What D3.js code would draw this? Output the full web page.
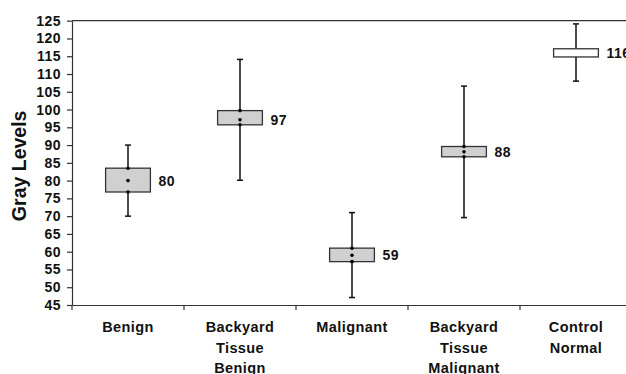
<!DOCTYPE html>
<html>
<head>
<meta charset="utf-8">
<script src="https://cdn.jsdelivr.net/npm/d3@7"></script>
<style>
  html, body { margin: 0; padding: 0; background: #fff; }
  svg { display: block; font-family: Arial, "Liberation Sans", sans-serif; }
</style>
</head>
<body>
<svg id="chart" width="626" height="374"></svg>
<script>
const categories = ["Benign", "Backyard Tissue Benign", "Malignant", "Backyard Tissue Malignant", "Control Normal"];
const categoryLines = [["Benign"], ["Backyard", "Tissue", "Benign"], ["Malignant"], ["Backyard", "Tissue", "Malignant"], ["Control", "Normal"]];
const mins  = [70, 80.1, 47.1, 69.6, 108];
const q1s   = [76.8, 95.7, 57.2, 86.7, 114.8];
const means = [80, 97.1, 59, 88.1, 116];
const q3s   = [83.5, 99.7, 61, 89.6, 117.1];
const maxs  = [90, 114.1, 71, 106.6, 124.1];
const valueLabels = ["80", "97", "59", "88", "116"];
const boxFills = ["#d0d0d0", "#d0d0d0", "#d0d0d0", "#d0d0d0", "#ffffff"];
const showDots = [true, true, true, true, false];
const yTicks = d3.range(45, 126, 5);

const svg = d3.select("#chart");
const pLeft = 72, pRight = 632, pTop = 20.7, pBottom = 305;

const x = d3.scaleBand().domain(categories).range([pLeft, pRight]);
const y = d3.scaleLinear().domain([45, 125]).range([pBottom, pTop]);

const data = categories.map((c, i) => ({
  c, lines: categoryLines[i], min: mins[i], q1: q1s[i], mean: means[i], q3: q3s[i], max: maxs[i],
  label: valueLabels[i], fill: boxFills[i], dots: showDots[i]
}));

// top frame line
svg.append("line").attr("x1", pLeft).attr("x2", 626).attr("y1", pTop).attr("y2", pTop)
  .attr("stroke", "#333").attr("stroke-width", 1.2);

// Y axis
const yAxis = svg.append("g").attr("transform", `translate(${pLeft},0)`)
  .call(d3.axisLeft(y).tickValues(yTicks).tickSize(5).tickPadding(6).tickSizeOuter(0));
yAxis.select(".domain").attr("stroke", "#333").attr("stroke-width", 1.2);
yAxis.selectAll(".tick line").attr("stroke", "#333").attr("stroke-width", 1.2);
yAxis.selectAll(".tick text").attr("font-size", "14px").attr("font-weight", "bold")
  .attr("letter-spacing", "0.5px")
  .attr("fill", "#111").attr("font-family", "Arial, 'Liberation Sans', sans-serif");

// X axis
const xAxis = svg.append("g").attr("transform", `translate(0,${pBottom})`)
  .call(d3.axisBottom(x).tickSize(0).tickFormat(""));
xAxis.select(".domain").attr("stroke", "#333").attr("stroke-width", 1.2);
const boundaries = categories.map(c => x(c)).concat([x(categories[categories.length - 1]) + x.bandwidth()]);
xAxis.selectAll(".bnd").data(boundaries).enter().append("line")
  .attr("x1", d => d).attr("x2", d => d).attr("y1", 0).attr("y2", 5)
  .attr("stroke", "#333").attr("stroke-width", 1.2);

// category labels
data.forEach(d => {
  const t = svg.append("text").attr("text-anchor", "middle")
    .attr("font-size", "14.5px").attr("font-weight", "bold").attr("letter-spacing", "0.4px")
    .attr("fill", "#111");
  d.lines.forEach((ln, j) => {
    t.append("tspan").attr("x", x(d.c) + x.bandwidth() / 2)
      .attr("y", pBottom + 27 + j * 20.5).text(ln);
  });
});

// Y title
svg.append("text").attr("transform", `translate(26,${(pTop + pBottom) / 2 + 3}) rotate(-90)`)
  .attr("text-anchor", "middle").attr("font-size", "19.5px").attr("font-weight", "bold")
  .attr("fill", "#111").text("Gray Levels");

// boxes
const bw = x.bandwidth() * 0.4, cap = 3;
const g = svg.append("g");
const grp = g.selectAll(".box").data(data).enter().append("g");
const cx = d => x(d.c) + x.bandwidth() / 2;

grp.append("line").attr("x1", cx).attr("x2", cx).attr("y1", d => y(d.min)).attr("y2", d => y(d.max))
  .attr("stroke", "#111").attr("stroke-width", 1.5);
grp.append("line").attr("x1", d => cx(d) - cap).attr("x2", d => cx(d) + cap)
  .attr("y1", d => y(d.max)).attr("y2", d => y(d.max)).attr("stroke", "#111").attr("stroke-width", 1.5);
grp.append("line").attr("x1", d => cx(d) - cap).attr("x2", d => cx(d) + cap)
  .attr("y1", d => y(d.min)).attr("y2", d => y(d.min)).attr("stroke", "#111").attr("stroke-width", 1.5);
grp.append("rect").attr("x", d => cx(d) - bw / 2).attr("width", bw)
  .attr("y", d => y(d.q3)).attr("height", d => y(d.q1) - y(d.q3))
  .attr("fill", d => d.fill).attr("stroke", "#333").attr("stroke-width", 1.3);
grp.filter(d => d.dots).each(function(d) {
  const s = d3.select(this);
  [d.q1, d.mean, d.q3].forEach(v => {
    s.append("circle").attr("cx", cx(d)).attr("cy", y(v)).attr("r", 1.8).attr("fill", "#000");
  });
});
grp.append("text").attr("x", d => cx(d) + bw / 2 + 8).attr("y", d => y(d.mean))
  .attr("dy", "0.36em").attr("font-size", "14px").attr("font-weight", "bold").attr("letter-spacing", "0.5px")
  .attr("fill", "#111")
  .text(d => d.label);
</script>
</body>
</html>
